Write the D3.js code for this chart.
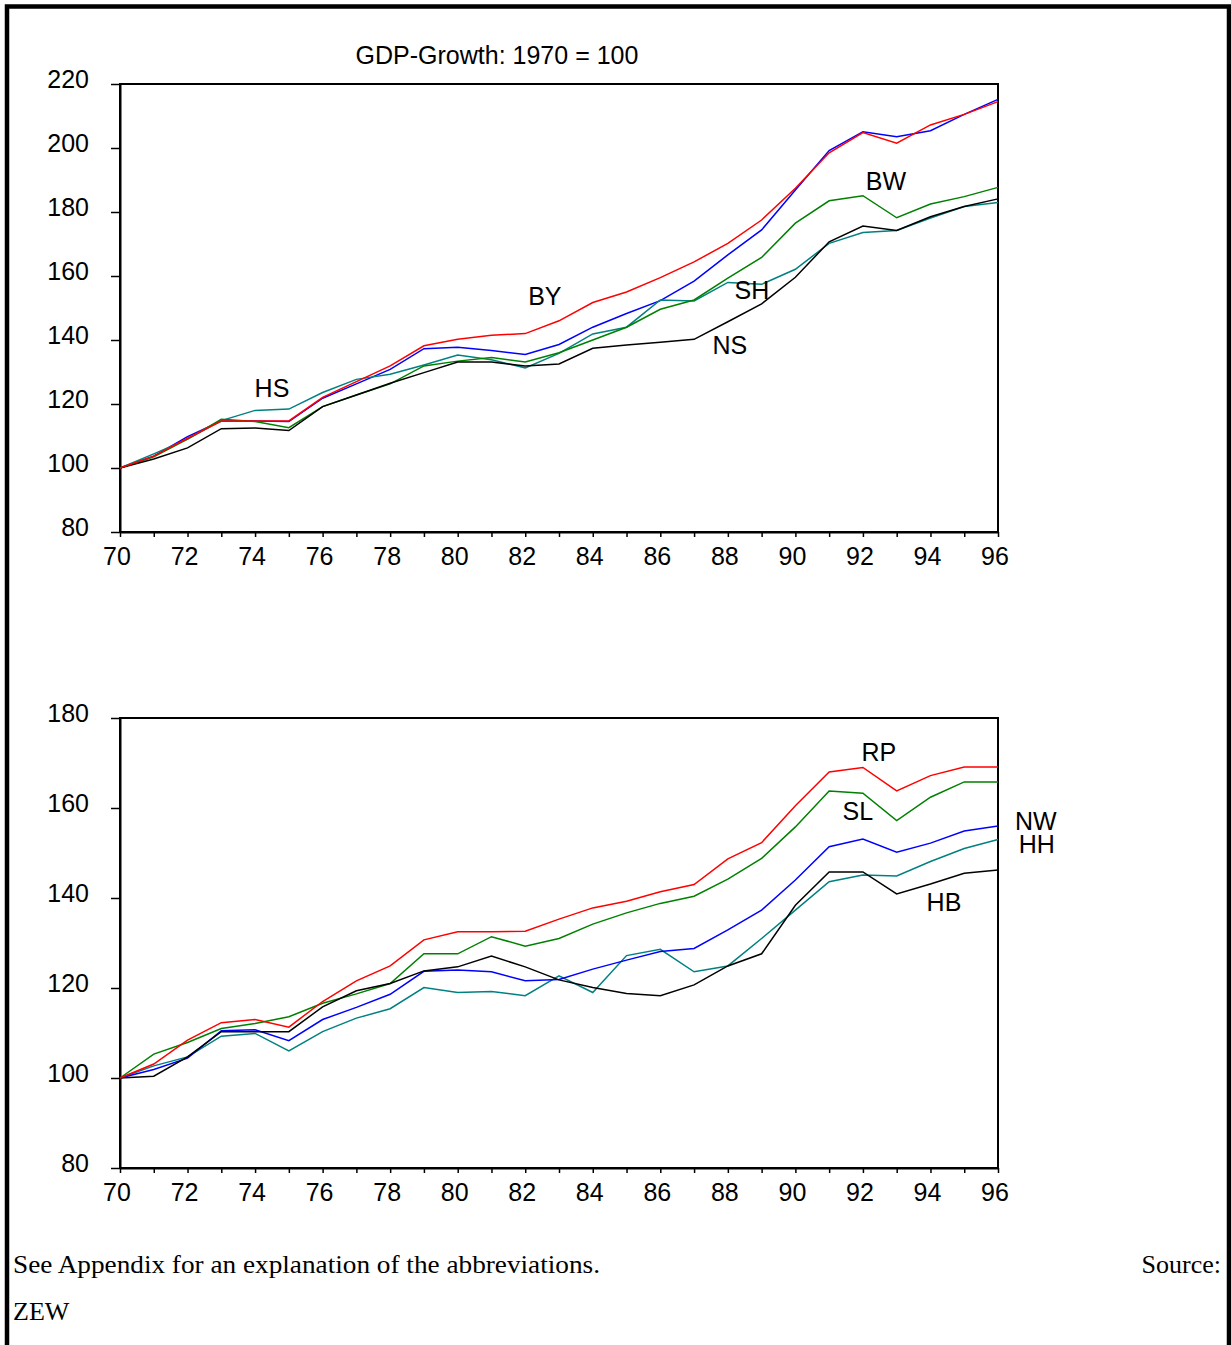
<!DOCTYPE html>
<html>
<head>
<meta charset="utf-8">
<script src="https://cdnjs.cloudflare.com/ajax/libs/d3/7.8.5/d3.min.js"></script>
<style>
html,body{margin:0;padding:0;background:#fff;}
svg{display:block;}
text{font-family:"Liberation Sans",Arial,sans-serif;}
</style>
</head>
<body>
<svg id="chart" width="1231" height="1345"></svg>
<script>
// ---------- DATA ----------
const years = d3.range(1970, 1997);
const xTickYears = d3.range(1970, 1997, 2);
const xTickLabels = xTickYears.map(y => String(y).slice(2));

// Top panel
const topTitle = "GDP-Growth: 1970 = 100";
const topYTicks = [80, 100, 120, 140, 160, 180, 200, 220];
const BY = [100,103.7,109.3,114.7,114.7,114.7,122.1,127.0,131.9,138.2,140.2,141.5,142.0,146.0,151.7,155.0,159.5,164.4,170.2,177.5,187.4,198.5,204.8,201.5,207.2,210.5,214.5];
const HS = [100,103.7,109.8,114.7,114.7,114.5,121.8,126.3,130.8,137.3,137.7,136.7,135.5,138.6,144.0,148.3,152.3,158.4,166.6,174.4,186.9,199.2,205.1,203.5,205.4,210.5,215.2];
const SH = [100,104.4,109.0,114.8,118.0,118.4,123.6,127.7,129.3,132.2,135.3,133.8,131.3,135.8,141.9,144.0,152.5,152.2,158.0,157.4,162.1,170.2,173.6,174.2,178.1,181.7,183.0];
const BW = [100,103.5,109.0,115.2,114.5,112.6,119.2,122.8,126.3,131.9,133.4,134.5,133.1,136.0,140.0,144.0,149.6,152.5,159.3,165.8,176.5,183.5,185.1,178.2,182.5,184.8,187.7];
const NS = [100,102.8,106.3,112.3,112.5,111.7,119.2,122.8,126.5,129.8,133.1,133.1,131.9,132.5,137.4,138.4,139.3,140.2,145.7,151.3,159.6,170.7,175.6,174.2,178.5,181.7,184.1];
const topSeriesNames = ["HS","SH","BW","NS","BY"];
const topLabelNames = ["HS","BY","SH","NS","BW"];
const topLabelYears = [1974.5, 1982.58, 1988.71, 1988.06, 1992.68];
const topLabelValues = [124.2, 152.9, 154.8, 137.6, 188.9];

// Bottom panel
const bottomYTicks = [80, 100, 120, 140, 160, 180];
const RP = [100,103.1,108.4,112.3,113.0,111.3,117.0,121.6,124.9,130.7,132.5,132.5,132.6,135.3,137.8,139.3,141.4,143.0,148.7,152.3,160.5,168.0,169.0,163.8,167.2,169.1,169.1];
const SL = [100,105.3,107.9,111.0,112.1,113.6,116.6,118.7,121.0,127.6,127.6,131.4,129.3,131.0,134.2,136.7,138.8,140.4,144.2,148.8,155.8,163.8,163.3,157.2,162.4,165.8,165.8];
const NW = [100,101.9,104.4,110.5,110.7,108.3,113.0,115.7,118.6,123.7,124.0,123.6,121.6,121.9,124.2,126.2,128.1,128.8,132.9,137.3,144.0,151.4,153.1,150.2,152.2,154.9,156.0];
const HH = [100,102.7,104.7,109.3,109.9,106.0,110.3,113.3,115.4,120.1,119.0,119.2,118.3,122.7,119.0,127.2,128.6,123.6,124.9,131.0,137.3,143.6,145.1,144.9,148.1,151.0,153.0];
const HB = [100,100.4,104.7,110.3,110.3,110.3,115.8,119.4,121.0,123.8,124.7,127.1,124.7,121.8,120.1,118.8,118.3,120.7,124.9,127.6,138.4,145.8,145.8,140.9,143.1,145.5,146.2];
const bottomSeriesNames = ["HH","NW","SL","HB","RP"];
const bottomLabelNames = ["RP","SL","NW","HH","HB"];
const bottomLabelYears = [1992.47, 1991.85, 1997.12, 1997.15, 1994.4];
const bottomLabelValues = [172.0, 158.7, 156.6, 151.5, 138.5];

const footnote = "See Appendix for an explanation of the abbreviations.";
const sourceLabel = "Source:";
const sourceName = "ZEW";

// ---------- STYLE ----------
const colors = {BY:"#ff0000", HS:"#0000ff", SH:"#008080", BW:"#008000", NS:"#000000",
                RP:"#ff0000", SL:"#008000", NW:"#0000ff", HH:"#008080", HB:"#000000"};
const seriesData = {BY, HS, SH, BW, NS, RP, SL, NW, HH, HB};
const FS = "25px";

const svg = d3.select("#chart");

// page border (top, left, right)
svg.append("path")
  .attr("d", "M7,1345 V6.5 H1229 V1345")
  .attr("fill", "none").attr("stroke", "#000").attr("stroke-width", 4.5);

function panel(cfg) {
  const x = d3.scaleLinear().domain([1970, 1996]).range([cfg.left, cfg.right]);
  const y = d3.scaleLinear().domain(cfg.domain).range([cfg.bottom, cfg.top]);
  const g = svg.append("g");

  // frame
  g.append("rect")
    .attr("x", cfg.left).attr("y", cfg.top)
    .attr("width", cfg.right - cfg.left).attr("height", cfg.bottom - cfg.top)
    .attr("fill", "none").attr("stroke", "#000").attr("stroke-width", 2);

  // y axis
  const yAxis = d3.axisLeft(y).tickValues(cfg.yTicks).tickSize(9).tickSizeOuter(0).tickPadding(0);
  const ya = g.append("g").attr("transform", `translate(${cfg.left},0)`).call(yAxis);
  ya.select(".domain").attr("stroke-width", 2);
  ya.selectAll(".tick line").attr("stroke-width", 1.5);
  ya.selectAll(".tick text")
    .attr("x", -31).attr("dy", null).attr("y", -3)
    .attr("dominant-baseline", "middle")
    .style("font-size", FS).style("font-family", "'Liberation Sans', Arial, sans-serif")
    .attr("fill", "#000");

  // x axis
  const xAxis = d3.axisBottom(x).tickValues(years).tickSize(5).tickSizeOuter(0)
    .tickFormat(d => { const i = xTickYears.indexOf(d); return i >= 0 ? xTickLabels[i] : ""; });
  const xa = g.append("g").attr("transform", `translate(0,${cfg.bottom})`).call(xAxis);
  xa.select(".domain").attr("stroke-width", 2);
  xa.selectAll(".tick line").attr("stroke-width", 1.5);
  xa.selectAll(".tick text")
    .attr("x", -3.5).attr("y", 26).attr("dy", null).attr("dominant-baseline", "middle")
    .style("font-size", FS).style("font-family", "'Liberation Sans', Arial, sans-serif")
    .attr("fill", "#000");

  // lines
  const line = d3.line().x((d, i) => x(years[i])).y(d => y(d));
  cfg.series.forEach(name => {
    g.append("path")
      .datum(seriesData[name])
      .attr("d", line)
      .attr("fill", "none")
      .attr("stroke", colors[name])
      .attr("stroke-width", 1.5)
      .attr("stroke-linejoin", "miter");
  });

  // labels
  cfg.labelNames.forEach((n, i) => {
    g.append("text")
      .attr("x", x(cfg.labelYears[i])).attr("y", y(cfg.labelValues[i]))
      .attr("text-anchor", "middle").attr("dominant-baseline", "middle")
      .style("font-size", FS).attr("fill", "#000")
      .text(n);
  });
  return {x, y};
}

panel({left:120, right:998, top:84, bottom:532, domain:[80,220], yTicks:topYTicks,
       series: topSeriesNames, labelNames: topLabelNames, labelYears: topLabelYears, labelValues: topLabelValues});
panel({left:120, right:998, top:718, bottom:1168, domain:[80,180], yTicks:bottomYTicks,
       series: bottomSeriesNames, labelNames: bottomLabelNames, labelYears: bottomLabelYears, labelValues: bottomLabelValues});

// title
svg.append("text").attr("x", 497).attr("y", 57)
  .attr("text-anchor", "middle").attr("dominant-baseline", "middle")
  .style("font-size", FS).attr("fill", "#000").text(topTitle);

// footnotes
svg.append("text").attr("x", 13).attr("y", 1273)
  .attr("textLength", 587).attr("lengthAdjust", "spacingAndGlyphs")
  .style("font-family", "'Liberation Serif','Times New Roman',serif").style("font-size", "26px")
  .attr("fill", "#000").text(footnote);
svg.append("text").attr("x", 1221).attr("y", 1273).attr("text-anchor", "end")
  .style("font-family", "'Liberation Serif','Times New Roman',serif").style("font-size", "26px")
  .attr("fill", "#000").text(sourceLabel);
svg.append("text").attr("x", 13).attr("y", 1320)
  .style("font-family", "'Liberation Serif','Times New Roman',serif").style("font-size", "26px")
  .attr("fill", "#000").text(sourceName);
</script>
</body>
</html>
